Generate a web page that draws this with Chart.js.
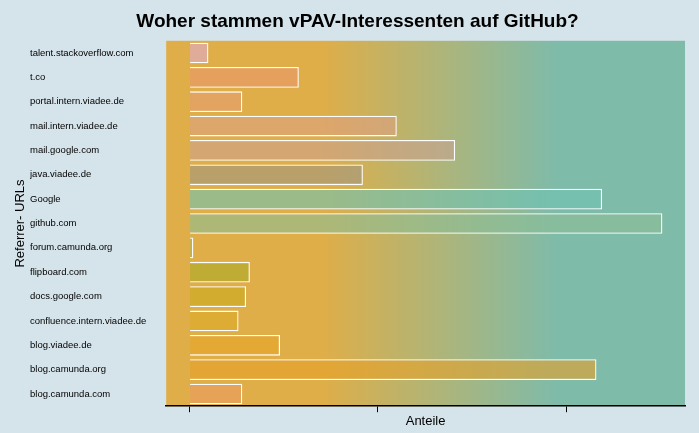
<!DOCTYPE html>
<html><head><meta charset="utf-8">
<script src="https://cdn.jsdelivr.net/npm/chart.js@4"></script>
<style>html,body{margin:0;padding:0;background:#d5e3ea;}#w{width:699px;height:433px;}</style>
</head><body><div id="w"><canvas id="c"></canvas></div>
<script>
const categories=["talent.stackoverflow.com","t.co","portal.intern.viadee.de","mail.intern.viadee.de","mail.google.com","java.viadee.de","Google","github.com","forum.camunda.org","flipboard.com","docs.google.com","confluence.intern.viadee.de","blog.viadee.de","blog.camunda.org","blog.camunda.com"];
const values=[1.0,5.8,2.8,11.0,14.1,9.2,21.9,25.1,0.2,3.2,3.0,2.6,4.8,21.6,2.8];
const barColors=["rgba(225,170,210,0.6)","rgba(235,150,110,0.6)","rgba(230,155,115,0.6)","rgba(220,160,130,0.6)","rgba(200,160,150,0.55)","rgba(160,150,130,0.6)","rgba(110,195,180,0.6)","rgba(140,190,150,0.6)","rgba(170,180,80,0.6)","rgba(170,170,40,0.6)","rgba(200,170,30,0.6)","rgba(220,170,40,0.6)","rgba(230,165,40,0.6)","rgba(230,160,40,0.6)","rgba(235,155,100,0.6)"];
const bgPlugin={id:'bg',beforeDraw(ch){const a=ch.chartArea,x=ch.ctx;const g=x.createLinearGradient(a.left,0,a.right,0);g.addColorStop(0,'#dfae48');g.addColorStop(0.3,'#dfae48');g.addColorStop(0.75,'#7fbba9');g.addColorStop(1,'#7fbba9');x.save();x.fillStyle=g;x.fillRect(a.left,a.top,a.right-a.left,a.bottom-a.top);x.restore();},
afterDraw(ch){const x=ch.ctx,a=ch.chartArea;x.save();x.translate(20,(a.top+a.bottom)/2);x.rotate(-Math.PI/2);x.fillStyle='#000';x.font='13px "Liberation Sans"';x.textAlign='center';x.textBaseline='middle';x.fillText('Referrer- URLs',0,0);x.restore();}};
new Chart(document.getElementById('c'),{type:'bar',data:{labels:categories,datasets:[{data:values,backgroundColor:barColors,borderColor:'#ffffff',borderWidth:1.3,categoryPercentage:0.85,barPercentage:1}]},
options:{indexAxis:'y',responsive:true,maintainAspectRatio:false,animation:false,
layout:{padding:{left:30,right:14,top:4,bottom:4}},
plugins:{legend:{display:false},tooltip:{enabled:false},title:{display:true,text:'Woher stammen vPAV-Interessenten auf GitHub?',color:'#000',font:{family:'Liberation Sans',size:19,weight:'bold'},padding:{top:6,bottom:8}}},
scales:{x:{min:-1.24,max:26.3,afterBuildTicks(ax){ax.ticks=[{value:0},{value:10},{value:20}];},grid:{display:true,drawOnChartArea:false,drawTicks:true,tickLength:6,tickColor:'#000'},border:{color:'#000',width:1.5},ticks:{display:true,callback:()=>'',padding:0,font:{size:1}},title:{display:true,text:'Anteile',color:'#000',font:{family:'Liberation Sans',size:13},padding:{top:0,bottom:0}}},
y:{grid:{display:false},border:{display:false},ticks:{color:'#000',crossAlign:'far',font:{family:'Liberation Sans',size:9.5},padding:6}}}},
plugins:[bgPlugin]});
</script></body></html>
